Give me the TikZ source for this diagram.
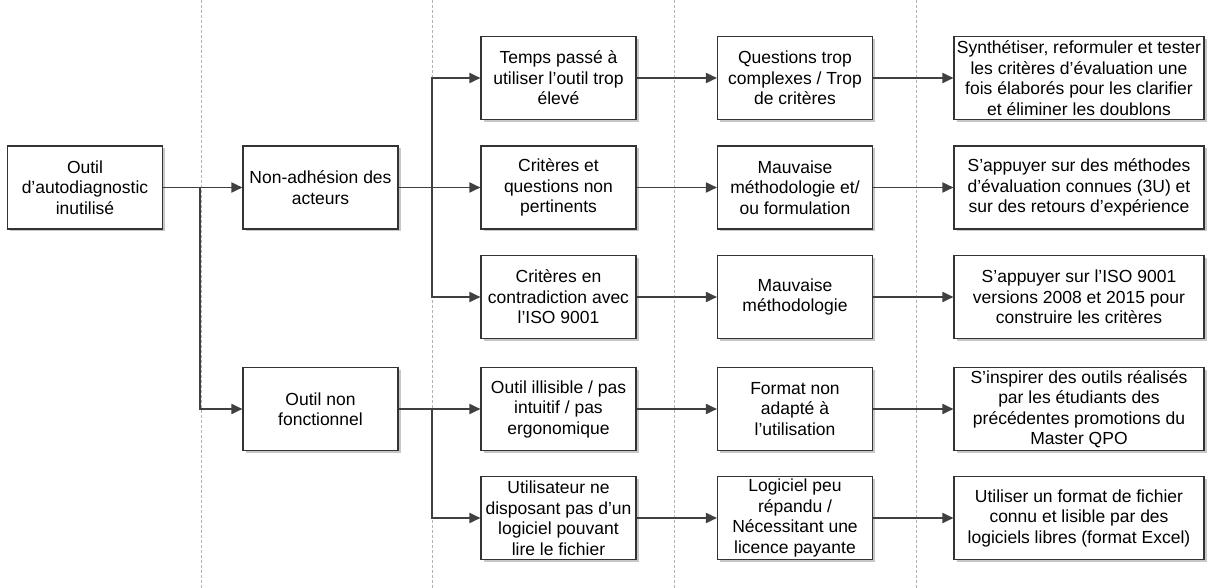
\documentclass[tikz,border=0pt]{standalone}
\usepackage{fontspec}
\setmainfont{Liberation Sans}
\usetikzlibrary{arrows.meta,shadows}
\definecolor{lnc}{HTML}{404040}
\definecolor{bdc}{HTML}{333333}
\tikzset{
  box/.style={draw=bdc, line width=1.1pt, fill=white, minimum width=155pt, minimum height=83pt,
    align=center, inner sep=1pt, font=\fontsize{17.5pt}{20.5pt}\selectfont,
    drop shadow={shadow xshift=2.5pt, shadow yshift=-2.5pt, fill=black!22, opacity=1}},
  wbox/.style={box, minimum width=250pt},
  conn/.style={draw=lnc, line width=1.8pt},
  arr/.style={conn, -{Triangle[length=11pt,width=10pt]}},
  sep/.style={draw=black!30, line width=0.8pt, dash pattern=on 3pt off 2pt},
}
\begin{document}
\begin{tikzpicture}[x=1pt,y=-1pt]
\useasboundingbox (0,0) rectangle (1211,588);
% separators
\foreach \xx in {201,432,674,916} \draw[sep] (\xx,0) -- (\xx,588);
% column x
\def\ca{85}\def\cb{320.5}\def\cc{558.5}\def\cd{795}\def\ce{1079}
\node[box] (A) at (\ca,187.5) {Outil\\d’autodiagnostic\\inutilisé};
\node[box] (B) at (\cb,187.5) {Non-adhésion des\\acteurs};
\node[box] (C) at (\cb,409) {Outil non\\fonctionnel};
% row 1
\node[box] (r1c) at (\cc,78) {Temps passé à\\utiliser l’outil trop\\élevé};
\node[box] (r1d) at (\cd,78) {Questions trop\\complexes / Trop\\de critères};
\node[wbox] (r1e) at (\ce,78) {Synthétiser, reformuler et tester\\les critères d’évaluation une\\fois élaborés pour les clarifier\\et éliminer les doublons};
% row 2
\node[box] (r2c) at (\cc,187.5) {Critères et\\questions non\\pertinents};
\node[box] (r2d) at (\cd,187.5) {Mauvaise\\méthodologie et/\\ou formulation};
\node[wbox] (r2e) at (\ce,187.5) {S’appuyer sur des méthodes\\d’évaluation connues (3U) et\\sur des retours d’expérience};
% row 3
\node[box] (r3c) at (\cc,297) {Critères en\\contradiction avec\\l’ISO 9001};
\node[box] (r3d) at (\cd,297) {Mauvaise\\méthodologie};
\node[wbox] (r3e) at (\ce,297) {S’appuyer sur l’ISO 9001\\versions 2008 et 2015 pour\\construire les critères};
% row 4
\node[box] (r4c) at (\cc,409) {Outil illisible / pas\\intuitif / pas\\ergonomique};
\node[box] (r4d) at (\cd,409) {Format non\\adapté à\\l’utilisation};
\node[wbox] (r4e) at (\ce,409) {S’inspirer des outils réalisés\\par les étudiants des\\précédentes promotions du\\Master QPO};
% row 5
\node[box] (r5c) at (\cc,518) {Utilisateur ne\\disposant pas d’un\\logiciel pouvant\\lire le fichier};
\node[box] (r5d) at (\cd,518) {Logiciel peu\\répandu /\\Nécessitant une\\licence payante};
\node[wbox] (r5e) at (\ce,518) {Utiliser un format de fichier\\connu et lisible par des\\logiciels libres (format Excel)};
% connectors
\draw[arr] (A.east) -- (B.west);
\draw[arr] (A.east) -| (200,409) -- (C.west);
\coordinate (j1) at (432,187.5);
\draw[arr] (B.east) -- (j1) |- (r1c.west);
\draw[arr] (j1) -- (r2c.west);
\draw[arr] (j1) |- (r3c.west);
\coordinate (j2) at (432,409);
\draw[arr] (C.east) -- (j2) -- (r4c.west);
\draw[arr] (j2) |- (r5c.west);
\foreach \r in {1,...,5} {
  \draw[arr] (r\r c.east) -- (r\r d.west);
  \draw[arr] (r\r d.east) -- (r\r e.west);
}
\end{tikzpicture}
\end{document}
